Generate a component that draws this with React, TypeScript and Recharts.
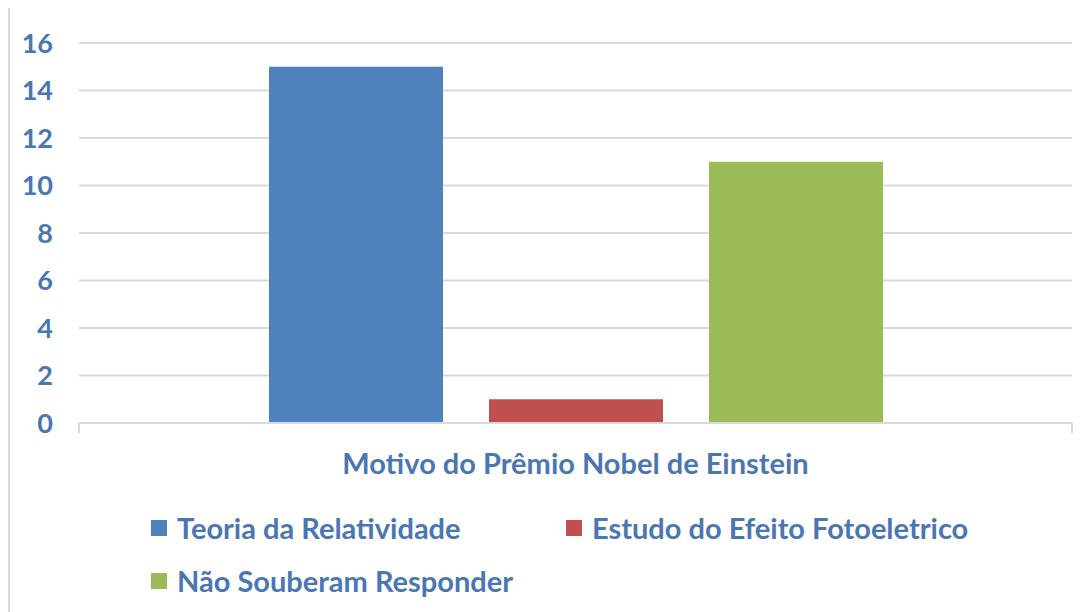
import React from 'react';
import { BarChart, Bar, XAxis, YAxis, CartesianGrid, Legend, usePlotArea } from 'recharts';

// Motivo do Prêmio Nobel de Einstein - respostas
const CATEGORIES = ['Motivo do Prêmio Nobel de Einstein'];
const SERIES_NAMES = ['Teoria da Relatividade', 'Estudo do Efeito Fotoeletrico', 'Não Souberam Responder'];
const SERIES_VALUES = [15, 1, 11];
const SERIES_COLORS = ['#4F81BD', '#C0504D', '#9BBB59'];
const Y_TICKS = [0, 2, 4, 6, 8, 10, 12, 14, 16];

const TEXT_COLOR = '#4a76b4';
const GRID_COLOR = '#d9d9d9';
const FONT = 'Lato, "Open Sans", sans-serif';

const chartData = CATEGORIES.map((name) => {
  const row: Record<string, string | number> = { name };
  SERIES_NAMES.forEach((s, i) => {
    row[s] = SERIES_VALUES[i];
  });
  return row;
});

// small tick marks at both ends of the category axis (Excel style)
function EdgeTicks() {
  const area = usePlotArea();
  if (!area) return null;
  const yb = area.y + area.height;
  return (
    <g>
      <line x1={area.x} x2={area.x} y1={yb} y2={yb + 10} stroke={GRID_COLOR} strokeWidth={2} />
      <line x1={area.x + area.width} x2={area.x + area.width} y1={yb} y2={yb + 10} stroke={GRID_COLOR} strokeWidth={2} />
    </g>
  );
}

function LegendContent() {
  return (
    <div
      style={{
        display: 'grid',
        gridTemplateColumns: '415px 415px',
        paddingLeft: 141,
        paddingTop: 8,
        fontFamily: FONT,
        fontWeight: 700,
        fontSize: 29,
        color: TEXT_COLOR,
        textAlign: 'left',
      }}
    >
      {SERIES_NAMES.map((name, i) => (
        <div key={name} style={{ height: 53, display: 'flex', alignItems: 'center', whiteSpace: 'nowrap' }}>
          <span
            style={{
              display: 'inline-block',
              width: 16,
              height: 16,
              background: SERIES_COLORS[i],
              marginRight: 10,
            }}
          />
          <span>{name}</span>
        </div>
      ))}
    </div>
  );
}

export default function App() {
  return (
    <div style={{ borderLeft: `2px solid ${GRID_COLOR}`, width: 1078, height: 604, boxSizing: 'border-box' }}>
      <BarChart
        width={1076}
        height={604}
        data={chartData}
        margin={{ top: 35, right: 14, left: 0, bottom: 0 }}
        barSize={174}
        barGap={46}
      >
        <CartesianGrid vertical={false} stroke={GRID_COLOR} strokeWidth={2} />
        <XAxis
          dataKey="name"
          height={70}
          axisLine={{ stroke: GRID_COLOR, strokeWidth: 2 }}
          tickLine={false}
          tickSize={0}
          tickMargin={30}
          tick={{ fill: TEXT_COLOR, fontSize: 29, fontWeight: 700, fontFamily: FONT }}
        />
        <YAxis
          width={69}
          domain={[0, 16]}
          ticks={Y_TICKS}
          interval={0}
          axisLine={false}
          tickLine={false}
          tickSize={0}
          tickMargin={26}
          tick={{ fill: TEXT_COLOR, fontSize: 27, fontWeight: 700, fontFamily: FONT }}
        />
        {SERIES_NAMES.map((name, i) => (
          <Bar key={name} dataKey={name} fill={SERIES_COLORS[i]} isAnimationActive={false} />
        ))}
        <Legend verticalAlign="bottom" height={119} content={<LegendContent />} />
        <EdgeTicks />
      </BarChart>
    </div>
  );
}
